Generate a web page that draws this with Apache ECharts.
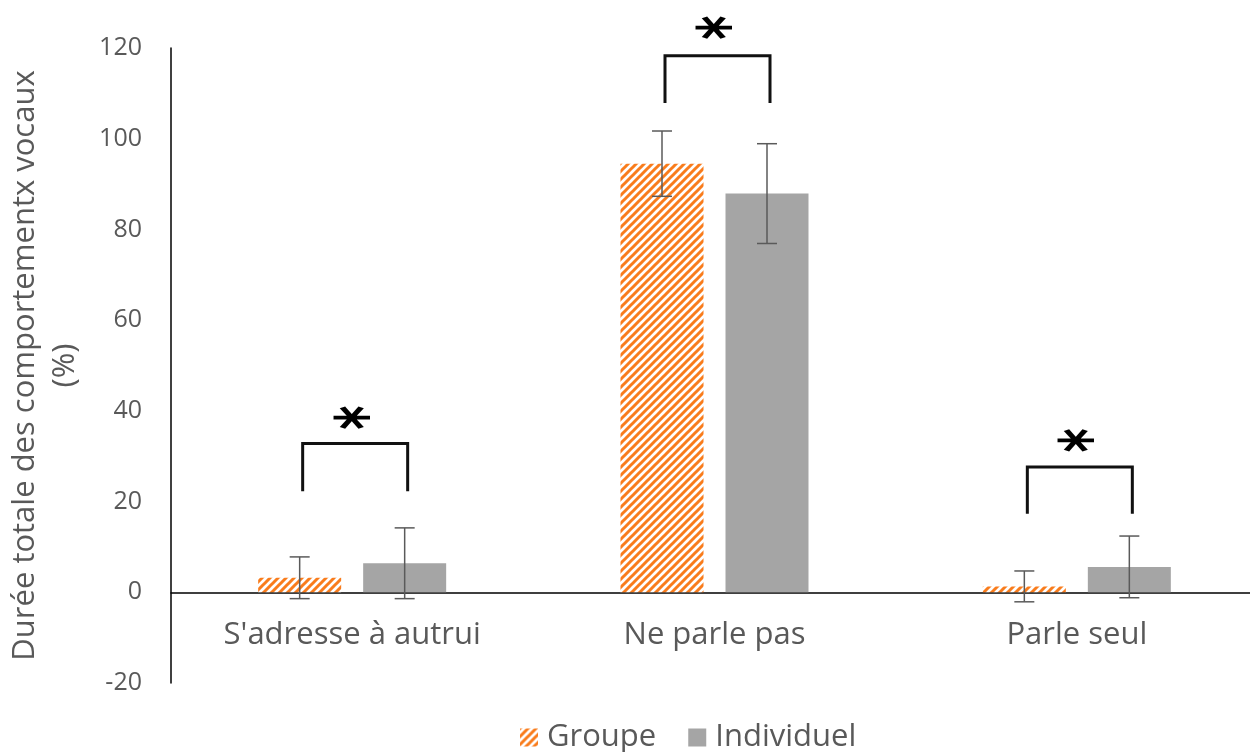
<!DOCTYPE html>
<html>
<head>
<meta charset="utf-8">
<script src="https://cdn.jsdelivr.net/npm/echarts@6/dist/echarts.min.js"></script>
<style>
html,body{margin:0;padding:0;background:#fff;}
#chart{width:1250px;height:752px;}
</style>
</head>
<body>
<div id="chart"></div>
<script>
// ---- data ----
const categories = ["S'adresse à autrui", "Ne parle pas", "Parle seul"];
const seriesNames = ["Groupe", "Individuel"];
const groupe = [3.2, 94.5, 1.3];
const groupeErr = [4.6, 7.2, 3.4];
const individuel = [6.4, 87.9, 5.6];
const individuelErr = [7.8, 11.0, 6.8];
// significance brackets: leg bottom, bracket top, asterisk position
const bracketLow = [22.3, 107.9, 17.3];
const bracketTop = [32.8, 118.3, 27.6];
const starPos = [38.5, 124.5, 33.5];
const starLabel = ["*", "*", "*"];
const yTicks = [-20, 0, 20, 40, 60, 80, 100, 120];

// ---- style ----
const BAR_W = 83, BAR_GAP = 22;
const OFF = (BAR_W + BAR_GAP) / 2;
const orange = '#F97C1C';
const grayBar = '#A5A5A5';
const textGray = '#595959';
const FONT = '"Open Sans", sans-serif';

function hatch() {
  const c = document.createElement('canvas');
  const s = 8;
  c.width = s; c.height = s;
  const ctx = c.getContext('2d');
  ctx.fillStyle = '#fff';
  ctx.fillRect(0, 0, s, s);
  ctx.strokeStyle = orange;
  ctx.lineWidth = 3;
  ctx.beginPath();
  ctx.moveTo(-2, s + 2); ctx.lineTo(s + 2, -2);
  ctx.moveTo(-2, 2); ctx.lineTo(2, -2);
  ctx.moveTo(s - 2, s + 2); ctx.lineTo(s + 2, s - 2);
  ctx.stroke();
  return { image: c, repeat: 'repeat' };
}
const hatchFill = hatch();

function errData(vals, errs) {
  return vals.map((v, i) => [i, v - errs[i], v + errs[i]]);
}
function errRender(offset) {
  return function (params, api) {
    const lo = api.coord([api.value(0), api.value(1)]);
    const hi = api.coord([api.value(0), api.value(2)]);
    const x = lo[0] + offset;
    const cap = 10;
    const st = { stroke: '#5a5a5a', lineWidth: 1.5 };
    return {
      type: 'group',
      children: [
        { type: 'line', shape: { x1: x, y1: lo[1], x2: x, y2: hi[1] }, style: st },
        { type: 'line', shape: { x1: x - cap, y1: lo[1], x2: x + cap, y2: lo[1] }, style: st },
        { type: 'line', shape: { x1: x - cap, y1: hi[1], x2: x + cap, y2: hi[1] }, style: st }
      ]
    };
  };
}

const bracketData = categories.map((c, i) => [i, bracketLow[i], bracketTop[i], starPos[i]]);

const chart = echarts.init(document.getElementById('chart'), null, { renderer: 'canvas' });
chart.setOption({
  animation: false,
  backgroundColor: '#fff',
  textStyle: { fontFamily: FONT },
  grid: { left: 171, width: 1087, top: 48, bottom: 69, containLabel: false, outerBoundsMode: 'none' },
  legend: {
    data: seriesNames,
    left: 515,
    top: 717,
    itemWidth: 18,
    itemHeight: 18,
    itemGap: 32,
    icon: 'rect',
    textStyle: { fontSize: 31, color: textGray, fontFamily: FONT, padding: [0, 0, 0, 4] }
  },
  xAxis: {
    type: 'category',
    data: categories,
    axisLine: { onZero: true, lineStyle: { color: '#000', width: 1.5 } },
    axisTick: { show: false },
    axisLabel: { fontSize: 31, color: textGray, margin: -63, fontFamily: FONT }
  },
  yAxis: {
    type: 'value',
    min: -20, max: 120, interval: 20,
    name: 'Durée totale des comportementx vocaux\n(%)',
    nameLocation: 'middle',
    nameGap: 86,
    nameTextStyle: { fontSize: 31, color: textGray, lineHeight: 40, fontFamily: FONT },
    axisLine: { show: true, lineStyle: { color: '#000', width: 1.5 } },
    axisTick: { show: false },
    splitLine: { show: false },
    axisLabel: {
      fontSize: 25, color: textGray, margin: 29, fontFamily: FONT,
      formatter: v => yTicks.includes(v) ? String(v) : ''
    }
  },
  series: [
    {
      name: seriesNames[0], type: 'bar', data: groupe,
      barWidth: BAR_W, barGap: (BAR_GAP / BAR_W * 100) + '%',
      itemStyle: { color: hatchFill }
    },
    {
      name: seriesNames[1], type: 'bar', data: individuel,
      barWidth: BAR_W,
      itemStyle: { color: grayBar }
    },
    {
      type: 'custom', name: 'errG', data: errData(groupe, groupeErr),
      renderItem: errRender(-OFF), z: 5, silent: true
    },
    {
      type: 'custom', name: 'errI', data: errData(individuel, individuelErr),
      renderItem: errRender(OFF), z: 5, silent: true
    },
    {
      type: 'custom', name: 'sig', data: bracketData, z: 6, silent: true, clip: false,
      renderItem: function (params, api) {
        const i = params.dataIndex;
        const lo = api.coord([api.value(0), api.value(1)]);
        const top = api.coord([api.value(0), api.value(2)]);
        const star = api.coord([api.value(0), api.value(3)]);
        const x1 = lo[0] - OFF + 3, x2 = lo[0] + OFF + 3;
        return {
          type: 'group',
          children: [
            {
              type: 'polyline',
              shape: { points: [[x1, lo[1]], [x1, top[1]], [x2, top[1]], [x2, lo[1]]] },
              style: { stroke: '#111', lineWidth: 3, fill: null, lineJoin: 'miter' }
            },
            {
              type: 'text',
              x: (x1 + x2) / 2 + 2, y: star[1],
              rotation: Math.PI / 2,
              scaleX: 0.8, scaleY: 1.35,
              style: {
                text: starLabel[i], x: 0, y: 10.5,
                align: 'center', verticalAlign: 'middle',
                fontSize: 58, fontWeight: 'bold', fill: '#000', fontFamily: '"DejaVu Sans", sans-serif'
              }
            }
          ]
        };
      }
    }
  ]
});
</script>
</body>
</html>
